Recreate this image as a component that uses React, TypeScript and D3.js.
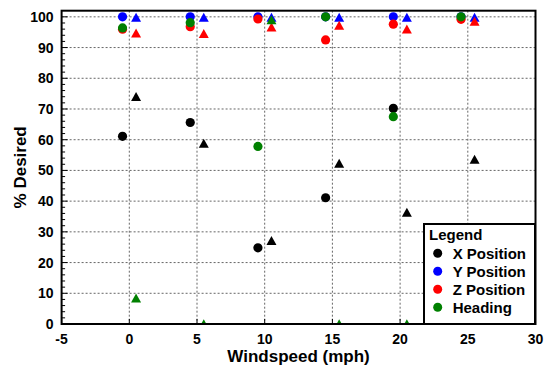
import React from "react";
import * as d3 from "d3";

const windCircle = [-0.5, 4.5, 9.5, 14.5, 19.5, 24.5];
const windTri = [0.5, 5.5, 10.5, 15.5, 20.5, 25.5];

const xPosCircle = [61.1, 65.6, 24.8, 41.1, 70.2, 15];
const yPosCircle = [100, 100, 100, 100, 100, 100];
const zPosCircle = [96.0, 96.8, 99.3, 92.5, 97.6, 99.2];
const headCircle = [96.4, 98.1, 57.8, 100, 67.5, 100];

const xPosTri = [74.0, 58.8, 27.1, 52.3, 36.3, 53.6];
const yPosTri = [99.8, 99.8, 99.8, 99.8, 99.8, 99.8];
const zPosTri = [94.7, 94.5, 96.6, 97.2, 96.0, 98.5];
const headTri = [8.4, 0, 99.0, 0, 0, 0];

const seriesNames = ["X Position", "Y Position", "Z Position", "Heading"];
const seriesColors = ["#000000", "#0000ff", "#ff0000", "#008000"];

const xTicks = [-5, 0, 5, 10, 15, 20, 25, 30];
const yTicks = [0, 10, 20, 30, 40, 50, 60, 70, 80, 90, 100];

const W = 547, H = 375;
const L = 61.6, R = 535.5, T = 10.7, B = 324;

export default function App() {
  const x = d3.scaleLinear().domain([-5, 30]).range([L, R]);
  const y = d3.scaleLinear().domain([0, 102]).range([B, T]);
  const yMinor = d3.range(0, 101, 2).filter((v) => v % 10 !== 0);
  const circleSets = [xPosCircle, yPosCircle, zPosCircle, headCircle];
  const triSets = [xPosTri, yPosTri, zPosTri, headTri];
  const tri = (cx: number, cy: number) =>
    `M${cx},${cy - 4.7}L${cx + 5},${cy + 4.3}L${cx - 5},${cy + 4.3}Z`;
  const font = "Liberation Sans, Arial, sans-serif";
  const legX = 424, legY = 224, legW = 111, legH = 100;
  return (
    <svg width={W} height={H} style={{ position: "absolute", left: 0, top: 0 }} fontFamily={font}>
      <rect width={W} height={H} fill="#fff" />
      <defs>
        <clipPath id="plot">
          <rect x={L} y={T} width={R - L} height={B - T} />
        </clipPath>
      </defs>
      {/* grid */}
      {xTicks.slice(1, -1).map((t) => (
        <line key={"gx" + t} x1={x(t)} x2={x(t)} y1={T} y2={B} stroke="#666" strokeWidth={1} strokeDasharray="2,2" />
      ))}
      {yTicks.slice(1).map((t) => (
        <line key={"gy" + t} x1={L} x2={R} y1={y(t)} y2={y(t)} stroke="#666" strokeWidth={1} strokeDasharray="2,2" />
      ))}
      {/* ticks */}
      {yTicks.map((t) => (
        <line key={"ty" + t} x1={L} x2={L + 6} y1={y(t)} y2={y(t)} stroke="#000" strokeWidth={1} />
      ))}
      {yMinor.map((t) => (
        <line key={"tm" + t} x1={L} x2={L + 3.5} y1={y(t)} y2={y(t)} stroke="#000" strokeWidth={1} />
      ))}
      {xTicks.map((t) => (
        <line key={"tx" + t} x1={x(t)} x2={x(t)} y1={B} y2={B - 5} stroke="#000" strokeWidth={1} />
      ))}
      {/* data */}
      <g clipPath="url(#plot)">
        {circleSets.map((vals, si) =>
          vals.map((v, i) => (
            <circle key={`c${si}-${i}`} cx={x(windCircle[i])} cy={y(v)} r={4.6} fill={seriesColors[si]} />
          ))
        )}
        {triSets.map((vals, si) =>
          vals.map((v, i) => (
            <path key={`t${si}-${i}`} d={tri(x(windTri[i]), y(v))} fill={seriesColors[si]} />
          ))
        )}
      </g>
      {/* frame */}
      <rect x={L} y={T} width={R - L} height={B - T} fill="none" stroke="#000" strokeWidth={2} />
      {/* tick labels */}
      {yTicks.map((t) => (
        <text key={"ly" + t} x={L - 8} y={y(t)} dy="0.36em" textAnchor="end" fontSize={14} fontWeight="bold">
          {t}
        </text>
      ))}
      {xTicks.map((t) => (
        <text key={"lx" + t} x={x(t)} y={B + 20} textAnchor="middle" fontSize={14} fontWeight="bold">
          {t}
        </text>
      ))}
      <text x={(L + R) / 2} y={362} textAnchor="middle" fontSize={17} fontWeight="bold">
        Windspeed (mph)
      </text>
      <text transform={`translate(26,${(T + B) / 2}) rotate(-90)`} textAnchor="middle" fontSize={17} fontWeight="bold">
        % Desired
      </text>
      {/* legend */}
      <rect x={legX} y={legY} width={legW} height={legH} fill="#fff" stroke="#000" strokeWidth={2} />
      <text x={429} y={240} fontSize={15} fontWeight="bold">Legend</text>
      {seriesNames.map((n, i) => (
        <g key={n}>
          <circle cx={437.7} cy={253.3 + i * 18} r={4.5} fill={seriesColors[i]} />
          <text x={452.7} y={253.3 + i * 18} dy="0.36em" fontSize={15} fontWeight="bold">
            {n}
          </text>
        </g>
      ))}
    </svg>
  );
}
